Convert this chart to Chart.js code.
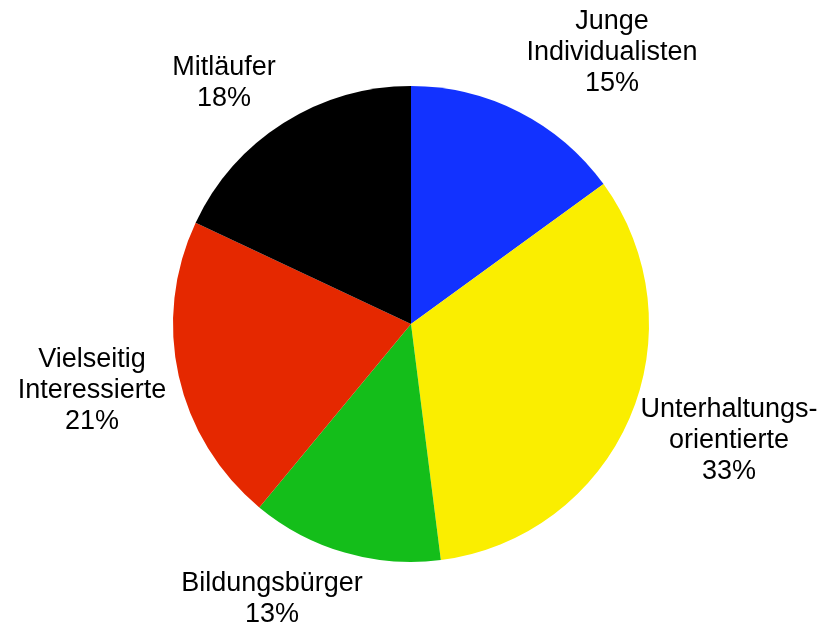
<!DOCTYPE html>
<html>
<head>
<meta charset="utf-8">
<script src="https://cdn.jsdelivr.net/npm/chart.js@4/dist/chart.umd.min.js"></script>
<style>
  html, body { margin: 0; padding: 0; background: #fff; }
  #wrap { width: 830px; height: 631px; }
</style>
</head>
<body>
<div id="wrap"><canvas id="myChart" width="830" height="631"></canvas></div>
<script>
// data
const labels = [
    ['Junge', 'Individualisten'],
    ['Unterhaltungs-', 'orientierte'],
    ['Bildungsbürger'],
    ['Vielseitig', 'Interessierte'],
    ['Mitläufer']
];
const values = [15, 33, 13, 21, 18];
const colors = ['#1232ff', '#faee00', '#14be1a', '#e52800', '#000000'];

// where each label block sits, relative to the pie centre (px)
const labelOffsets = [[201, -271], [318, 117], [-139, 275], [-319, 67], [-187, -241]];

const outsideLabels = {
    id: 'outsideLabels',
    afterDraw: function(chart) {
        const ctx = chart.ctx;
        const arc = chart.getDatasetMeta(0).data[0];
        const cx = arc.x, cy = arc.y;
        const lineH = 31;
        ctx.save();
        ctx.font = '27px "Liberation Sans", Arial, sans-serif';
        ctx.fillStyle = '#000';
        ctx.textAlign = 'center';
        ctx.textBaseline = 'middle';
        labels.forEach(function(lines, i) {
            const all = lines.concat([values[i] + '%']);
            const x = cx + labelOffsets[i][0];
            const y0 = cy + labelOffsets[i][1] - (all.length - 1) * lineH / 2;
            all.forEach(function(t, j) {
                ctx.fillText(t, x, y0 + j * lineH);
            });
        });
        ctx.restore();
    }
};

document.addEventListener('DOMContentLoaded', function() {
    var ctx = document.getElementById('myChart').getContext('2d');
    var myChart = new Chart(ctx, {
        type: 'pie',
        data: {
            labels: labels.map(function(l) { return l.join(' '); }),
            datasets: [{
                data: values,
                backgroundColor: colors,
                borderWidth: 0
            }]
        },
        options: {
            responsive: false,
            animation: false,
            layout: {
                padding: { left: 173, right: 181, top: 86, bottom: 69 }
            },
            plugins: {
                legend: { display: false },
                tooltip: { enabled: false }
            }
        },
        plugins: [outsideLabels]
    });
});
</script>
</body>
</html>
